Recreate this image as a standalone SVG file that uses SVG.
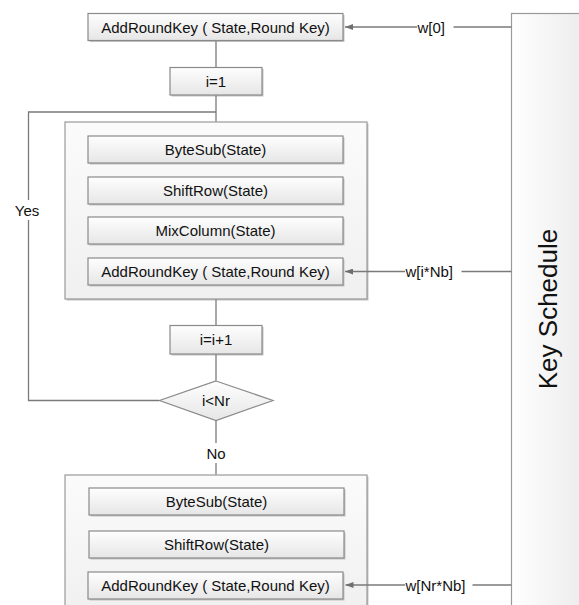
<svg xmlns="http://www.w3.org/2000/svg" width="579" height="605" viewBox="0 0 579 605">
<defs>
<linearGradient id="gBox" x1="0" y1="0" x2="0" y2="1">
<stop offset="0" stop-color="#fefefe"/>
<stop offset="1" stop-color="#e6e6e6"/>
</linearGradient>
<linearGradient id="gOuter" x1="0" y1="0" x2="0" y2="1">
<stop offset="0" stop-color="#fbfbfb"/>
<stop offset="1" stop-color="#f0f0f0"/>
</linearGradient>
<linearGradient id="gKey" x1="0" y1="0" x2="1" y2="0">
<stop offset="0" stop-color="#ffffff"/>
<stop offset="1" stop-color="#eaeaea"/>
</linearGradient>
<marker id="arr" markerWidth="8" markerHeight="6" refX="8" refY="3" orient="auto" markerUnits="userSpaceOnUse">
<path d="M0,0 L8,3 L0,6 Z" fill="#6f6f6f"/>
</marker>
</defs>
<style>
.box{fill:url(#gBox);stroke:#8a8a8a;stroke-width:1.2}
.sh{fill:#c4c4c4}
.outer{fill:url(#gOuter);stroke:#9a9a9a;stroke-width:1.2}
.t{font-family:"Liberation Sans",Arial,sans-serif;font-size:15px;fill:#111;text-anchor:middle}
.tl{font-family:"Liberation Sans",Arial,sans-serif;font-size:15px;fill:#111;text-anchor:start}
.ln{stroke:#7a7a7a;stroke-width:1.3;fill:none}
</style>
<rect width="579" height="605" fill="#ffffff"/>

<g id="keySchedule">
<rect x="511.5" y="13.5" width="80" height="600" fill="url(#gKey)" stroke="#9a9a9a" stroke-width="1.2"/>
<text x="557" y="309" transform="rotate(-90 557 309)" font-family="'Liberation Sans',Arial,sans-serif" font-size="26" fill="#111" text-anchor="middle">Key Schedule</text>
</g>

<g id="addRoundKey0">
<rect class="sh" x="89.5" y="15" width="255" height="27"/>
<rect class="box" x="88" y="13.5" width="255" height="27"/>
<text class="t" x="215.5" y="32.5">AddRoundKey ( State,Round Key)</text>
</g>

<g id="init">
<rect class="sh" x="171.5" y="69" width="92" height="27.5"/>
<rect class="box" x="170" y="67.5" width="92" height="27.5"/>
<text class="t" x="216" y="86.5">i=1</text>
</g>

<g id="round">
<rect class="sh" x="66.5" y="123.5" width="302" height="177"/>
<rect class="outer" x="65" y="122" width="302" height="177"/>
<g id="byteSub1">
<rect class="sh" x="89.5" y="137.5" width="255" height="27"/>
<rect class="box" x="88" y="136" width="255" height="27"/>
<text class="t" x="215.5" y="155">ByteSub(State)</text>
</g>
<g id="shiftRow1">
<rect class="sh" x="89.5" y="178.5" width="255" height="27"/>
<rect class="box" x="88" y="177" width="255" height="27"/>
<text class="t" x="215.5" y="196">ShiftRow(State)</text>
</g>
<g id="mixColumn1">
<rect class="sh" x="89.5" y="218.5" width="255" height="27"/>
<rect class="box" x="88" y="217" width="255" height="27"/>
<text class="t" x="215.5" y="236">MixColumn(State)</text>
</g>
<g id="addRoundKey1">
<rect class="sh" x="89.5" y="259.5" width="255" height="27"/>
<rect class="box" x="88" y="258" width="255" height="27"/>
<text class="t" x="215.5" y="277">AddRoundKey ( State,Round Key)</text>
</g>
</g>

<g id="increment">
<rect class="sh" x="171.5" y="327" width="92" height="28.5"/>
<rect class="box" x="170" y="325.5" width="92" height="28.5"/>
<text class="t" x="216" y="345">i=i+1</text>
</g>

<g id="decision">
<polygon points="216,381 273,400.5 216,420.5 159.5,400.5" fill="url(#gBox)" stroke="#8a8a8a" stroke-width="1.2"/>
<text class="t" x="216" y="406">i&lt;Nr</text>
</g>

<g id="finalRound">
<rect class="sh" x="66.5" y="476.5" width="302" height="140"/>
<rect class="outer" x="65" y="475" width="302" height="140"/>
<g id="byteSub2">
<rect class="sh" x="90.5" y="489.5" width="255" height="27"/>
<rect class="box" x="89" y="488" width="255" height="27"/>
<text class="t" x="216.5" y="507">ByteSub(State)</text>
</g>
<g id="shiftRow2">
<rect class="sh" x="90.5" y="532.5" width="255" height="27"/>
<rect class="box" x="89" y="531" width="255" height="27"/>
<text class="t" x="216.5" y="550">ShiftRow(State)</text>
</g>
<g id="addRoundKey2">
<rect class="sh" x="89.5" y="573.5" width="255" height="27"/>
<rect class="box" x="88" y="572" width="255" height="27"/>
<text class="t" x="215.5" y="591">AddRoundKey ( State,Round Key)</text>
</g>
</g>

<g id="connectors">
<line class="ln" x1="216" y1="41.2" x2="216" y2="66.9"/>
<line class="ln" x1="216" y1="95.6" x2="216" y2="121.4"/>
<polyline class="ln" points="216,112 28.5,112 28.5,400.5 159,400.5"/>
<line class="ln" x1="216" y1="299.6" x2="216" y2="324.9"/>
<line class="ln" x1="216" y1="354.6" x2="216" y2="380.5"/>
<line class="ln" x1="216" y1="421" x2="216" y2="474.4"/>
<line class="ln" x1="417" y1="27" x2="345" y2="27" marker-end="url(#arr)"/>
<line class="ln" x1="453.5" y1="27" x2="511.5" y2="27"/>
<line class="ln" x1="405" y1="271.5" x2="345" y2="271.5" marker-end="url(#arr)"/>
<line class="ln" x1="461.5" y1="271.5" x2="511.5" y2="271.5"/>
<line class="ln" x1="405" y1="585" x2="345.5" y2="585" marker-end="url(#arr)"/>
<line class="ln" x1="472.5" y1="585" x2="511.5" y2="585"/>
<rect x="12" y="200" width="30" height="20" fill="#ffffff"/>
<text class="t" x="27" y="215.5">Yes</text>
<rect x="203" y="443" width="26" height="20" fill="#ffffff"/>
<text class="t" x="216" y="458.5">No</text>
<text class="tl" x="417.5" y="32.5">w[0]</text>
<text class="tl" x="405.5" y="277">w[i*Nb]</text>
<text class="tl" x="405.5" y="590.5">w[Nr*Nb]</text>
</g>
</svg>
